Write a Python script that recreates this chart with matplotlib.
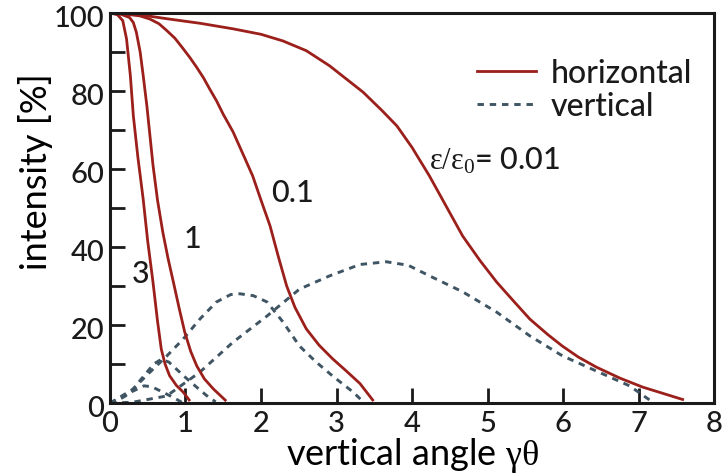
import matplotlib
matplotlib.use("Agg")
import matplotlib.pyplot as plt
import matplotlib.transforms as mtransforms

plt.rcParams['font.family'] = ['Lato', 'DejaVu Sans']
plt.rcParams['font.weight'] = 'medium'
plt.rcParams['text.color'] = '#1a1a1a'
plt.rcParams['mathtext.fontset'] = 'custom'
plt.rcParams['mathtext.rm'] = 'Liberation Serif'
plt.rcParams['mathtext.it'] = 'Liberation Serif'

# horizontal polarisation, one curve per emittance ratio
h001_x = [0, 0.4, 0.75, 1.2, 1.63, 2.0, 2.29, 2.6, 2.91, 3.1, 3.35, 3.6, 3.8, 4.0, 4.23, 4.45,
          4.67, 4.9, 5.12, 5.35, 5.56, 5.8, 5.99, 6.2, 6.44, 6.75, 7.05, 7.35, 7.6]
h001_y = [100, 99.5, 98.5, 97.3, 95.9, 94.5, 92.8, 90.3, 86.4, 83.5, 79.7, 75, 71, 65.5, 58.2, 50.5,
          42.8, 36.5, 31, 26, 21.5, 17.5, 14.6, 11.8, 9.2, 6.4, 4.1, 2.3, 0.8]
h01_x = [0, 0.15, 0.4, 0.53, 0.65, 0.75, 0.86, 0.97, 1.06, 1.15, 1.24, 1.32, 1.41, 1.5, 1.63,
         1.78, 1.89, 2.0, 2.12, 2.23, 2.34, 2.45, 2.6, 2.77, 2.95, 3.13, 3.31, 3.49]
h01_y = [100, 99.8, 99.2, 98.4, 97.2, 95.5, 93.5, 90.8, 88.5, 86, 83.3, 80.5, 77.5, 74, 69.5,
         63, 58.2, 52, 45.4, 37.5, 30, 24.5, 19, 14.8, 11.3, 8.2, 5.0, 0.5]
h1_x = [0, 0.15, 0.26, 0.31, 0.35, 0.40, 0.44, 0.49, 0.57, 0.63, 0.70, 0.77, 0.84, 0.92, 0.99,
        1.07, 1.15, 1.25, 1.37, 1.54]
h1_y = [100, 99.6, 98.8, 97.5, 95, 90, 84, 76, 61, 52, 43.8, 37, 31, 24, 18.2,
        13.2, 9.5, 6.2, 3.6, 0.5]
h3_x = [0, 0.1, 0.17, 0.22, 0.27, 0.31, 0.37, 0.44, 0.5, 0.57, 0.63, 0.68, 0.73, 0.79, 0.88,
        0.97, 1.06]
h3_y = [100, 99.5, 98, 93.3, 84, 73.6, 63, 52.3, 41.5, 31, 21, 13.8, 10, 7, 4.5,
        2.8, 0.5]

# vertical polarisation
v001_x = [0, 0.3, 0.75, 1.19, 1.63, 2.08, 2.51, 2.91, 3.31, 3.66, 3.95, 4.23, 4.67, 5.12,
          5.56, 5.99, 6.44, 6.88, 7.18]
v001_y = [0, 0.2, 1.8, 7.9, 15.6, 22.3, 29.2, 32.6, 35.5, 36.2, 35.3, 32.6, 28.5, 23.3,
          17.2, 12.1, 8.2, 4.4, 0.3]
v01_x = [0, 0.09, 0.3, 0.53, 0.75, 0.97, 1.19, 1.41, 1.6, 1.72, 1.9, 2.08, 2.29, 2.51, 2.73,
         2.95, 3.22, 3.36]
v01_y = [0, 1, 3.5, 7.9, 12, 16.4, 21.5, 25.9, 27.8, 28, 27.5, 25.9, 20.8, 14.6, 10.5,
         6.9, 2.8, 0.2]
v1_x = [0, 0.07, 0.2, 0.31, 0.4, 0.49, 0.58, 0.68, 0.78, 0.88, 0.98, 1.08, 1.2, 1.3, 1.4]
v1_y = [0, 0.5, 1.8, 3.5, 5.8, 7.9, 10, 11.2, 10.5, 8.7, 6.9, 5.2, 3.2, 1.6, 0.3]
v3_x = [0, 0.15, 0.3, 0.45, 0.55, 0.7, 0.85, 0.95]
v3_y = [0, 1.2, 3, 4.4, 4.2, 2.8, 1.3, 0.2]

red = '#9b1f1a'
slate = '#3f5563'
dash = (0, (2.2, 2.0))

fig = plt.figure(figsize=(7.28, 4.77), dpi=100)
ax = fig.add_axes([0.151, 0.153, 0.830, 0.818])

for xs, ys in [(v001_x, v001_y), (v01_x, v01_y), (v1_x, v1_y), (v3_x, v3_y)]:
    ax.plot(xs, ys, color=slate, lw=2.1, ls=dash)
for xs, ys in [(h001_x, h001_y), (h01_x, h01_y), (h1_x, h1_y), (h3_x, h3_y)]:
    ax.plot(xs, ys, color=red, lw=2.0, solid_capstyle='butt')

h_line, = ax.plot([], [], color=red, lw=2.0)
v_line, = ax.plot([], [], color=slate, lw=2.1, ls=dash)
ax.legend([h_line, v_line], ['horizontal', 'vertical'], loc='upper left',
          bbox_to_anchor=(0.608, 0.884), frameon=False, fontsize=23,
          handlelength=1.85, handletextpad=0.45, labelspacing=0.1, borderpad=0,
          borderaxespad=0)

ax.text(4.22, 60, r'$\varepsilon/\varepsilon_0$= 0.01', fontsize=22, va='baseline')
ax.text(2.14, 51.8, '0.1', fontsize=22, va='baseline')
ax.text(0.97, 40, '1', fontsize=22, va='baseline')
ax.text(0.29, 31, '3', fontsize=22, va='baseline')

ax.set_xlim(0, 8)
ax.set_ylim(0, 100)
ax.set_xticks(range(0, 9))
ax.set_yticks(range(0, 101, 20))
ax.set_yticks(range(10, 100, 20), minor=True)
ax.tick_params(axis='both', which='both', direction='in', length=11, width=2.0,
               color='#1a1a1a', labelsize=21, labelcolor='#1a1a1a', top=False, right=False)
ax.tick_params(axis='x', pad=5)
ax.tick_params(axis='y', pad=4)
for s in ax.spines.values():
    s.set_linewidth(2.2)
    s.set_color('#1a1a1a')

# nudge y tick labels down a little
offset = mtransforms.ScaledTranslation(0, -2 / 72, fig.dpi_scale_trans)
for lab in ax.get_yticklabels():
    lab.set_transform(lab.get_transform() + offset)

ax.set_xlabel(r'vertical angle $\mathrm{\gamma\theta}$', fontsize=26, labelpad=-1)
ax.set_ylabel('intensity [%]', fontsize=26)
ax.yaxis.set_label_coords(-0.094, 0.595)

fig.savefig('out.png', dpi=100)
